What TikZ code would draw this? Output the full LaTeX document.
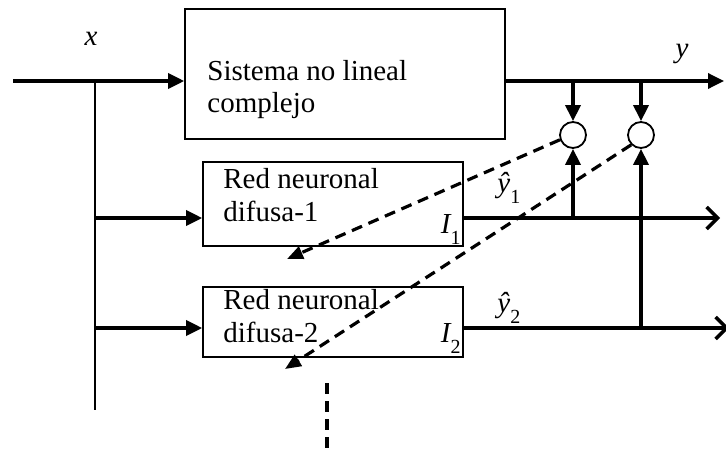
\documentclass[tikz,border=0pt]{standalone}
\usepackage{fontspec}
\setmainfont{Liberation Serif}
\usetikzlibrary{arrows.meta}
\newcommand{\sbs}[1]{\raisebox{-0.4em}{\fontsize{10}{10}\selectfont #1}}
\begin{document}
\begin{tikzpicture}[x=0.5pt,y=-0.5pt,
  every node/.style={font=\fontsize{14.5}{16}\selectfont},
  blk/.style={draw,line width=0.8pt,rectangle,inner sep=0pt},
  txt/.style={anchor=base west,inner sep=0pt},
  lbl/.style={inner sep=0pt},
  sum/.style={draw,circle,line width=0.9pt,minimum size=13pt,inner sep=0pt},
  sig/.style={line width=1.7pt,-{Triangle[length=8pt,width=7.5pt]}},
  thn/.style={line width=0.75pt},
  opn/.style={line width=1.7pt,-{Straight Barb[length=5.5pt,width=11pt,line width=1.7pt]}},
  dsh/.style={line width=1.6pt,dash pattern=on 5.5pt off 3.5pt,-{Triangle[length=8pt,width=6.5pt]}},
  dshl/.style={line width=1.6pt,dash pattern=on 5.5pt off 3.5pt}]
\useasboundingbox (0,0) rectangle (726,455);
% blocks
\node[blk,minimum width=160pt,minimum height=65pt] (sys) at (345,74) {};
\node[blk,minimum width=130pt,minimum height=42pt] (nn1) at (333,204) {};
\node[blk,minimum width=130pt,minimum height=35pt] (nn2) at (333,322) {};
\node[sum] (c1) at (573,135) {};
\node[sum] (c2) at (641,135) {};
% texts
\node[txt] (s1) at (207,80) {Sistema no lineal};
\node[txt] (s2) at (207,112) {complejo};
\node[txt] (a1) at (223,188) {Red neuronal};
\node[txt] (a2) at (223,221) {difusa-1};
\node[txt] (b1) at (223,309) {Red neuronal};
\node[txt] (b2) at (223,342) {difusa-2};
\node[lbl,anchor=base] (lx) at (91,45) {\itshape x};
\node[lbl,anchor=base] (ly) at (682,57) {\itshape y};
\node[lbl,anchor=base west] (ly1) at (497,192) {{\itshape \^{y}}\sbs{1}};
\node[lbl,anchor=base west] (ly2) at (497,312) {{\itshape \^{y}}\sbs{2}};
\node[lbl,anchor=base east] (li1) at (461,233) {{\itshape I}\sbs{1}};
\node[lbl,anchor=base east] (li2) at (461,342) {{\itshape I}\sbs{2}};
% coordinates
\coordinate (xin) at (13,81);
\coordinate (sp) at (95,81);
\coordinate (spb) at (95,410);
\coordinate (yout) at (724,81);
\coordinate (o1) at (720,218);
\coordinate (o2) at (729,328);
\coordinate (d1) at (287,259);
\coordinate (d2) at (285,369);
\coordinate (v1) at (327,383);
\coordinate (v2) at (327,455);
% signal lines
\draw[sig] (xin) -- (xin -| sys.west);
\draw[thn] (sp) -- (spb);
\draw[sig] (sp |- 0,218) -- (nn1.west |- 0,218);
\draw[sig] (sp |- 0,328) -- (nn2.west |- 0,328);
\draw[sig] (sys.east |- yout) -- (yout);
\draw[sig] (c1 |- yout) -- (c1.north);
\draw[sig] (c2 |- yout) -- (c2.north);
\draw[opn] (nn1.east |- o1) -- (o1);
\draw[opn] (nn2.east |- o2) -- (o2);
\draw[sig] (c1 |- o1) -- (c1.south);
\draw[sig] (c2 |- o2) -- (c2.south);
% error feedback
\draw[dsh] (c1.200) -- (d1);
\draw[dsh] (c2.225) -- (d2);
\draw[dshl] (v1) -- (v2);
\end{tikzpicture}
\end{document}
